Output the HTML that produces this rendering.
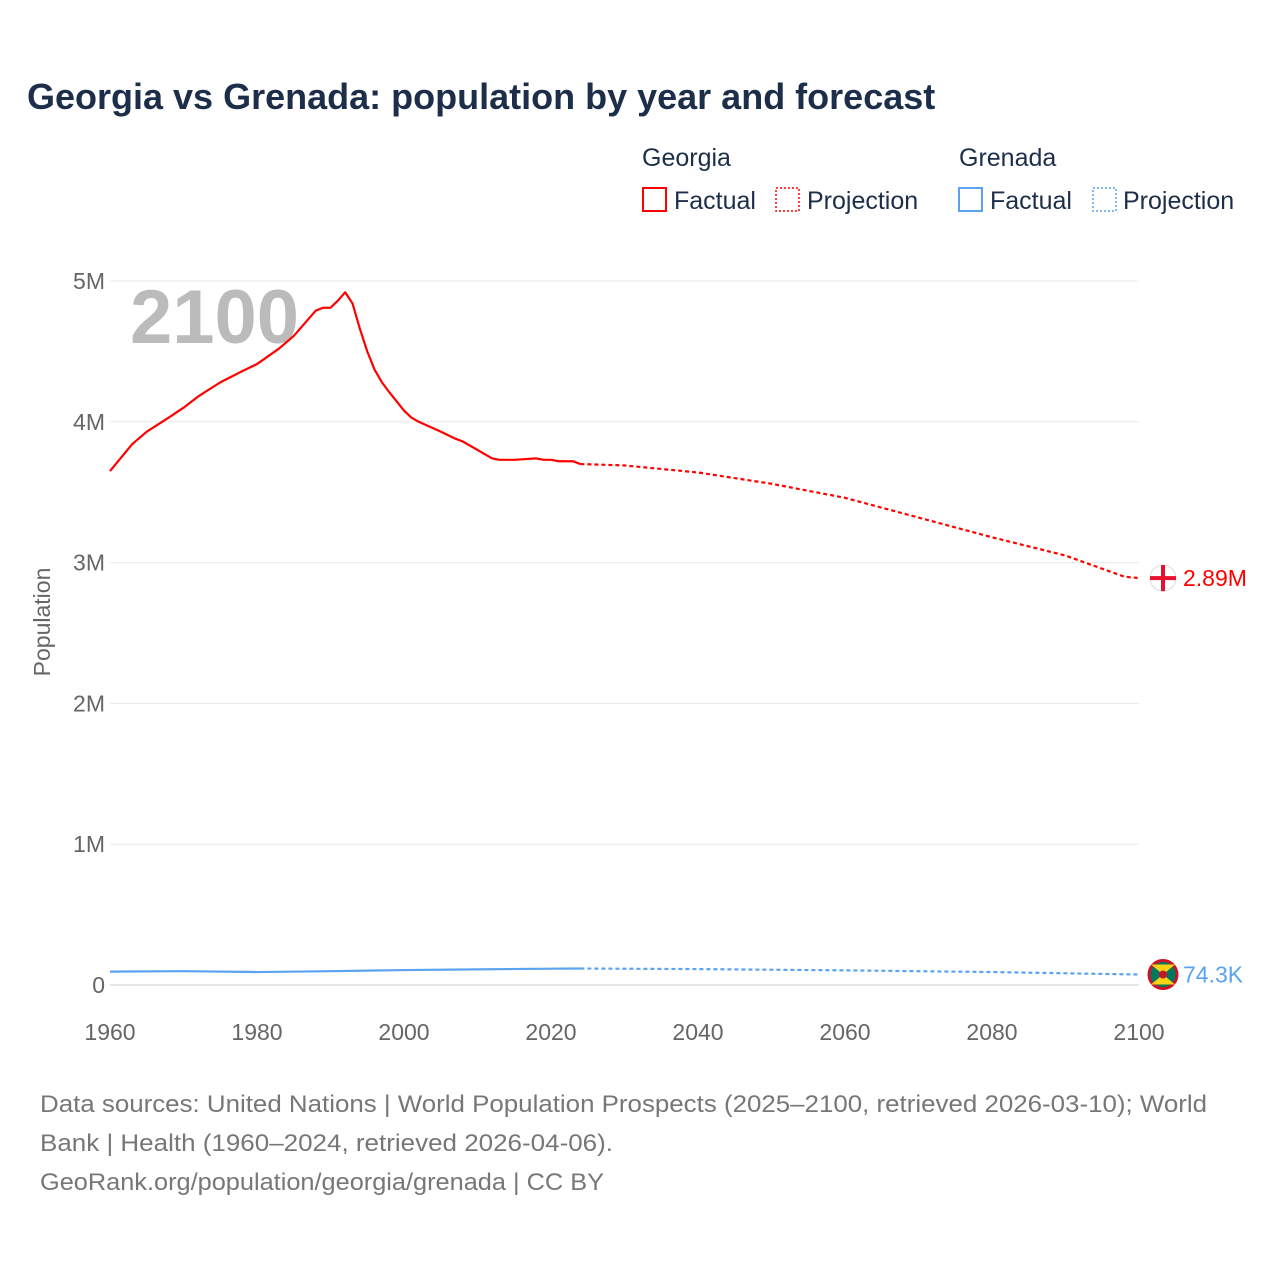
<!DOCTYPE html>
<html><head><meta charset="utf-8"><style>
body{margin:0;background:#fff;font-family:"Liberation Sans",sans-serif}
</style></head><body>
<svg width="1280" height="1280" viewBox="0 0 1280 1280" xmlns="http://www.w3.org/2000/svg" font-family="Liberation Sans, sans-serif">
<rect width="1280" height="1280" fill="#fff"/>
<text x="27" y="109" font-size="36" font-weight="bold" fill="#1c2e4a">Georgia vs Grenada: population by year and forecast</text>
<g font-size="25" fill="#1c2e4a">
<text x="642" y="166">Georgia</text>
<rect x="643" y="188" width="23" height="23" fill="none" stroke="#f00" stroke-width="2"/>
<text x="674" y="209">Factual</text>
<rect x="776" y="188" width="23" height="23" fill="none" stroke="#f00" stroke-width="1.5" stroke-dasharray="2,2"/>
<text x="807" y="209">Projection</text>
<text x="959" y="166">Grenada</text>
<rect x="959" y="188" width="23" height="23" fill="none" stroke="#5ba3f0" stroke-width="2"/>
<text x="990" y="209">Factual</text>
<rect x="1093" y="188" width="23" height="23" fill="none" stroke="#5ba3f0" stroke-width="1.5" stroke-dasharray="2,2"/>
<text x="1123" y="209">Projection</text>
</g>
<g id="grid"></g>
<g id="yt" font-size="23" fill="#666" text-anchor="end"></g>
<g id="xt" font-size="23" fill="#666" text-anchor="middle"></g>
<text transform="translate(50,622) rotate(-90)" font-size="23" fill="#666" text-anchor="middle">Population</text>
<text x="130" y="343" font-size="76" font-weight="bold" fill="#bbb">2100</text>
<g id="series"></g>
<g font-size="24" fill="#777">
<text x="40" y="1112" textLength="1167" lengthAdjust="spacingAndGlyphs">Data sources: United Nations | World Population Prospects (2025–2100, retrieved 2026-03-10); World</text>
<text x="40" y="1151" textLength="573" lengthAdjust="spacingAndGlyphs">Bank | Health (1960–2024, retrieved 2026-04-06).</text>
<text x="40" y="1190" textLength="564" lengthAdjust="spacingAndGlyphs">GeoRank.org/population/georgia/grenada | CC BY</text>
</g>
</svg>
<script>
const yTicks=[0,1,2,3,4,5];
const yLabels=["0","1M","2M","3M","4M","5M"];
const xTicks=[1960,1980,2000,2020,2040,2060,2080,2100];
const geoYears=[1960,1963,1965,1968,1970,1972,1975,1978,1980,1983,1985,1988,1989,1990,1991,1992,1993,1994,1995,1996,1997,1998,2000,2001,2002,2005,2007,2008,2010,2012,2013,2015,2018,2019,2020,2021,2023,2024];
const geoVals=[3.65,3.84,3.93,4.03,4.10,4.18,4.28,4.36,4.41,4.52,4.61,4.79,4.81,4.81,4.86,4.92,4.84,4.66,4.50,4.37,4.28,4.21,4.08,4.03,4.00,3.93,3.88,3.86,3.80,3.74,3.73,3.73,3.74,3.73,3.73,3.72,3.72,3.70];
const geoProjYears=[2024,2030,2040,2050,2060,2070,2080,2090,2098,2100];
const geoProjVals=[3.70,3.69,3.64,3.56,3.46,3.32,3.18,3.05,2.90,2.89];
const grdYears=[1960,1970,1980,1990,2000,2010,2020,2024];
const grdVals=[0.095,0.098,0.092,0.098,0.106,0.111,0.116,0.117];
const grdProjYears=[2024,2040,2060,2080,2100];
const grdProjVals=[0.117,0.113,0.104,0.092,0.0743];
const X=y=>110+(y-1960)*(1139-110)/140;
const Y=v=>985-v*(985-281)/5;
const NS="http://www.w3.org/2000/svg";
function mk(t,a,p){const e=document.createElementNS(NS,t);for(const k in a)e.setAttribute(k,a[k]);p.appendChild(e);return e;}
const grid=document.getElementById('grid'),yt=document.getElementById('yt'),xt=document.getElementById('xt'),ser=document.getElementById('series');
yTicks.forEach((v,i)=>{const l=mk('line',{x1:110,x2:1139,y1:Y(v),y2:Y(v),stroke:i==0?'#ccc':'#e8e8e8','stroke-width':1},grid);


const t=mk('text',{x:105,y:Y(v)+8},yt);t.textContent=yLabels[i];

});
xTicks.forEach(v=>{const t=mk('text',{x:X(v),y:1040},xt);t.textContent=v;

});
function line(xs,vs,col,dash,name){const p=mk('polyline',{points:xs.map((x,i)=>X(x)+','+Y(vs[i])).join(' '),fill:'none',stroke:col,'stroke-width':2.2,'stroke-dasharray':dash,'stroke-linejoin':'round'},ser);

}
line(geoYears,geoVals,'#f00','none','georgia-factual-line');
line(geoProjYears,geoProjVals,'#f00','4,3','georgia-projection-line');
line(grdYears,grdVals,'#5ba3f0','none','grenada-factual-line');
line(grdProjYears,grdProjVals,'#5ba3f0','4,3','grenada-projection-line');
const gy=Y(geoProjVals[geoProjVals.length-1]),by=Y(grdProjVals[grdProjVals.length-1]);
const f1=mk('g',{},ser);
mk('circle',{cx:1163,cy:gy,r:13,fill:'#fff',stroke:'#ddd'},f1);
mk('rect',{x:1161,y:gy-13,width:4,height:26,fill:'#e8112d'},f1);
mk('rect',{x:1150,y:gy-2,width:26,height:4,fill:'#e8112d'},f1);
const t1=mk('text',{x:1183,y:gy+8,'font-size':23,fill:'#f00'},ser);t1.textContent='2.89M';


const f2=mk('g',{},ser);
mk('circle',{cx:1163,cy:by,r:14,fill:'#007a5e',stroke:'#ce1126','stroke-width':3},f2);
mk('polygon',{points:`1151,${by-10} 1175,${by-10} 1163,${by}`,fill:'#fcd116'},f2);
mk('polygon',{points:`1151,${by+10} 1175,${by+10} 1163,${by}`,fill:'#fcd116'},f2);
mk('circle',{cx:1163,cy:by,r:4,fill:'#ce1126'},f2);
const t2=mk('text',{x:1183,y:by+8,'font-size':23,fill:'#5ba3f0'},ser);t2.textContent='74.3K';


</script>
</body></html>
